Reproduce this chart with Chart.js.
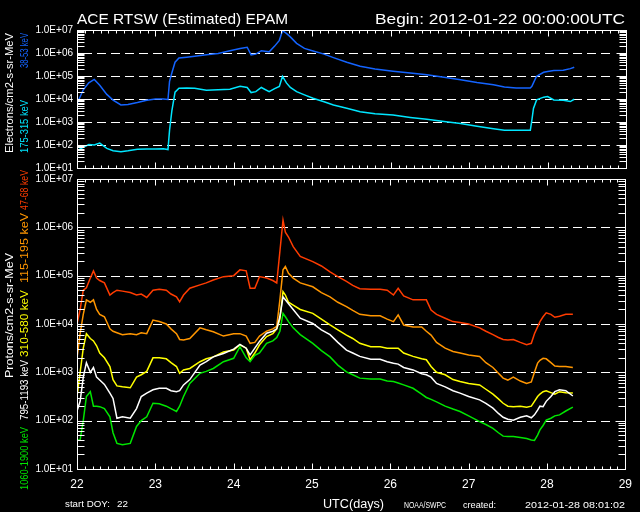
<!DOCTYPE html>
<html>
<head>
<meta charset="utf-8">
<script src="https://cdn.jsdelivr.net/npm/chart.js@4.4.0/dist/chart.umd.min.js"></script>
<style>
  body { margin: 0; background: #000; }
  #wrap { position: relative; width: 640px; height: 512px; background: #000; }
  canvas { position: absolute; left: 0; top: 0; }
</style>
</head>
<body>
<div id="wrap">
  <canvas id="elec" width="640" height="512"></canvas>
  <canvas id="prot" width="640" height="512"></canvas>
</div>
<script>

// electrons
var eDays = [22.0, 22.08, 22.15, 22.22, 22.29, 22.38, 22.46, 22.56, 22.65, 22.77, 22.89, 23.0, 23.1, 23.16, 23.18, 23.21, 23.25, 23.3, 23.4, 23.5,
  23.65, 23.8, 23.95, 24.08, 24.17, 24.22, 24.28, 24.35, 24.45, 24.52, 24.58, 24.62, 24.67, 24.72, 24.8, 24.9, 25.01, 25.15, 25.27, 25.44,
  25.61, 25.8, 26.03, 26.25, 26.46, 26.68, 26.89, 27.1, 27.31, 27.45, 27.6, 27.78, 27.8, 27.82, 27.86, 27.95, 28.0, 28.08, 28.2, 28.29, 28.34];
var e38 = [3.8, 4.4, 4.7, 4.85, 4.6, 4.2, 3.95, 3.74, 3.76, 3.85, 3.95, 4.0, 4.0, 3.98, 4.77, 5.14, 5.6, 5.78, 5.82, 5.86,
  5.92, 5.98, 6.1, 6.2, 6.25, 5.92, 5.95, 6.1, 6.05, 6.3, 6.55, 6.97, 6.85, 6.7, 6.42, 6.2, 6.09, 5.95, 5.8, 5.6,
  5.42, 5.3, 5.21, 5.13, 5.05, 4.95, 4.84, 4.72, 4.62, 4.52, 4.48, 4.48, 4.55, 4.7, 4.99, 5.16, 5.2, 5.24, 5.25, 5.32, 5.38];
var e175 = [1.76, 1.9, 2.02, 2.0, 2.08, 1.85, 1.75, 1.71, 1.75, 1.82, 1.83, 1.83, 1.84, 1.8, 2.64, 3.5, 4.3, 4.47, 4.48, 4.47,
  4.38, 4.4, 4.42, 4.55, 4.5, 4.28, 4.32, 4.5, 4.32, 4.45, 4.55, 4.99, 4.7, 4.5, 4.32, 4.18, 4.03, 3.88, 3.74, 3.6,
  3.45, 3.36, 3.3, 3.2, 3.12, 3.02, 2.93, 2.82, 2.71, 2.64, 2.64, 2.64, 3.08, 3.59, 3.96, 4.08, 4.11, 3.96, 3.95, 3.89, 3.99];

// protons
var pDays = [22.0, 22.04, 22.08, 22.12, 22.17, 22.21, 22.25, 22.29, 22.35, 22.42, 22.46, 22.51, 22.58, 22.68, 22.76, 22.82, 22.89, 22.97, 23.05, 23.14,
  23.2, 23.27, 23.31, 23.36, 23.44, 23.57, 23.65, 23.74, 23.87, 24.0, 24.08, 24.16, 24.21, 24.27, 24.33, 24.42, 24.5, 24.55, 24.59, 24.63,
  24.66, 24.7, 24.76, 24.85, 25.01, 25.12, 25.23, 25.33, 25.44, 25.52, 25.61, 25.75, 25.87, 25.96, 26.04, 26.1, 26.17, 26.29, 26.4, 26.46,
  26.52, 26.59, 26.7, 26.8, 26.89, 27.0, 27.14, 27.22, 27.31, 27.38, 27.44, 27.5, 27.57, 27.66, 27.74, 27.8, 27.84, 27.88, 27.91, 27.95,
  27.99, 28.05, 28.1, 28.16, 28.24, 28.33];
var p47 = [4.0, 4.3, 4.7, 4.75, 4.95, 5.1, 4.95, 4.9, 4.85, 4.6, 4.65, 4.7, 4.68, 4.65, 4.6, 4.62, 4.55, 4.7, 4.72, 4.7,
  4.62, 4.56, 4.46, 4.6, 4.74, 4.81, 4.85, 4.91, 4.98, 5.0, 5.12, 5.1, 4.74, 4.74, 4.98, 4.95, 4.9, 4.85, 5.5, 6.15,
  5.9, 5.8, 5.6, 5.4, 5.29, 5.2, 5.08, 4.98, 4.88, 4.8, 4.73, 4.72, 4.72, 4.7, 4.6, 4.74, 4.58, 4.5, 4.5, 4.5,
  4.29, 4.2, 4.12, 4.05, 4.03, 4.0, 3.92, 3.85, 3.78, 3.72, 3.68, 3.67, 3.68, 3.62, 3.57, 3.6, 3.8, 3.94, 4.05, 4.15,
  4.23, 4.2, 4.14, 4.16, 4.2, 4.2];
var p115 = [3.3, 3.8, 4.2, 4.5, 4.45, 4.5, 4.3, 4.2, 4.15, 3.9, 3.85, 3.82, 3.78, 3.8, 3.78, 3.82, 3.8, 4.08, 4.05, 4.0,
  3.9, 3.8, 3.68, 3.67, 3.7, 3.92, 3.88, 3.84, 3.75, 3.8, 3.8, 3.75, 3.6, 3.62, 3.75, 3.85, 3.9, 3.95, 4.5, 5.12,
  5.19, 5.05, 4.95, 4.85, 4.77, 4.65, 4.56, 4.45, 4.36, 4.28, 4.2, 4.17, 4.17, 4.1, 4.05, 4.19, 3.98, 3.94, 3.94, 3.85,
  3.77, 3.62, 3.5, 3.43, 3.4, 3.36, 3.33, 3.2, 3.1, 2.98, 2.88, 2.84, 2.9, 2.82, 2.77, 2.8, 3.0, 3.19, 3.25, 3.29,
  3.28, 3.2, 3.13, 3.12, 3.12, 3.1];
var p310 = [2.5, 3.0, 3.5, 3.8, 3.7, 3.65, 3.55, 3.4, 3.3, 3.12, 2.85, 2.72, 2.7, 2.68, 2.9, 2.95, 3.02, 3.3, 3.3, 3.28,
  3.2, 3.12, 2.98, 3.05, 3.08, 3.22, 3.28, 3.32, 3.42, 3.46, 3.57, 3.5, 3.26, 3.4, 3.57, 3.74, 3.8, 3.9, 4.1, 4.67,
  4.6, 4.45, 4.39, 4.3, 4.22, 4.1, 3.98, 3.88, 3.77, 3.7, 3.6, 3.53, 3.53, 3.5, 3.5, 3.5, 3.4, 3.33, 3.28, 3.26,
  3.12, 3.0, 2.95, 2.85, 2.81, 2.77, 2.74, 2.65, 2.55, 2.45, 2.36, 2.3, 2.29, 2.3, 2.28, 2.3, 2.4, 2.5, 2.55, 2.6,
  2.62, 2.58, 2.55, 2.6, 2.58, 2.57];
var p795 = [2.2, 2.4, 2.9, 3.2, 3.0, 3.1, 2.9, 2.84, 2.75, 2.57, 2.46, 2.05, 2.08, 2.05, 2.25, 2.5, 2.57, 2.64, 2.67, 2.67,
  2.62, 2.6, 2.62, 2.74, 2.85, 3.15, 3.22, 3.32, 3.39, 3.48, 3.58, 3.5, 3.36, 3.5, 3.64, 3.81, 3.85, 3.9, 4.15, 4.56,
  4.5, 4.42, 4.3, 4.12, 4.01, 3.88, 3.78, 3.62, 3.46, 3.4, 3.33, 3.27, 3.27, 3.22, 3.19, 3.17, 3.1, 3.05, 2.97, 2.95,
  2.9, 2.77, 2.7, 2.62, 2.57, 2.5, 2.43, 2.36, 2.26, 2.15, 2.07, 2.03, 2.01, 2.07, 2.1, 2.06, 2.12, 2.22, 2.3, 2.29,
  2.4, 2.5, 2.6, 2.64, 2.62, 2.51];
var p1060 = [1.6, 1.6, 2.0, 2.5, 2.6, 2.3, 2.3, 2.29, 2.25, 2.08, 1.75, 1.53, 1.5, 1.53, 1.88, 2.0, 2.08, 2.36, 2.35, 2.3,
  2.25, 2.19, 2.3, 2.5, 2.77, 2.98, 3.02, 3.08, 3.22, 3.29, 3.53, 3.3, 3.22, 3.35, 3.4, 3.6, 3.65, 3.72, 3.85, 4.22,
  4.15, 4.05, 3.92, 3.78, 3.6, 3.45, 3.32, 3.15, 3.01, 2.95, 2.88, 2.86, 2.86, 2.82, 2.81, 2.78, 2.74, 2.67, 2.55, 2.48,
  2.44, 2.39, 2.3, 2.24, 2.19, 2.1, 1.98, 1.92, 1.84, 1.75, 1.68, 1.67, 1.67, 1.65, 1.63, 1.6, 1.59, 1.7, 1.81, 1.9,
  2.01, 2.05, 2.1, 2.12, 2.2, 2.28];

var decades = [1e1, 1e2, 1e3, 1e4, 1e5, 1e6, 1e7];
var dayTicks = [22, 23, 24, 25, 26, 27, 28, 29];

var blue = '#1464ff', cyan = '#00e6ff', red = '#ff3c00', orange = '#ff9600',
    yellow = '#ffff00', white = '#ffffff', green = '#00e600';

function toPts(days, logs) {
  return days.map(function (d, i) { return { x: d, y: Math.pow(10, logs[i]) }; });
}

// draw text from (x,y) stretched to width w, optionally rotated to read upward
function fitText(ctx, s, x, y, w, color, size, rot) {
  ctx.save();
  ctx.font = size + 'px "Liberation Sans"';
  ctx.fillStyle = color;
  ctx.textBaseline = 'alphabetic';
  ctx.textAlign = 'left';
  ctx.translate(x, y);
  if (rot) ctx.rotate(-Math.PI / 2);
  ctx.scale(w / ctx.measureText(s).width, 1);
  ctx.fillText(s, 0, 0);
  ctx.restore();
}

var framePlugin = {
  id: 'frame',
  beforeDatasetsDraw: function (chart) {
    var ctx = chart.ctx, a = chart.chartArea, ys = chart.scales.y;
    ctx.save();
    ctx.strokeStyle = '#fff';
    ctx.lineWidth = 1;
    ctx.setLineDash([9, 5]);
    decades.slice(1, -1).forEach(function (v) {
      var py = Math.round(ys.getPixelForValue(v)) + 0.5;
      ctx.beginPath();
      ctx.moveTo(a.left + 6, py);
      ctx.lineTo(a.right - 12, py);
      ctx.stroke();
    });
    ctx.restore();
  },
  afterDatasetsDraw: function (chart) {
    var ctx = chart.ctx, a = chart.chartArea, xs = chart.scales.x, ys = chart.scales.y;
    var l = Math.round(a.left) + 0.5, r = Math.round(a.right) + 0.5,
        t = Math.round(a.top) + 0.5, b = Math.round(a.bottom) + 0.5;
    ctx.save();
    ctx.strokeStyle = '#fff';
    ctx.lineWidth = 1;
    ctx.strokeRect(l, t, r - l, b - t);
    ctx.beginPath();
    for (var n = 1; n < 7; n++) {
      for (var k = 1; k < 10; k++) {
        var py = Math.round(ys.getPixelForValue(k * Math.pow(10, n))) + 0.5;
        var len = k === 1 ? 10 : 7;
        ctx.moveTo(l, py); ctx.lineTo(l + len, py);
        ctx.moveTo(r, py); ctx.lineTo(r - len, py);
      }
    }
    for (var i = 0; i <= (xs.max - xs.min) * 10; i++) {
      var px = Math.round(xs.getPixelForValue(xs.min + i / 10)) + 0.5;
      var tl = i % 10 === 0 ? 6 : 3;
      ctx.moveTo(px, t); ctx.lineTo(px, t + tl);
      ctx.moveTo(px, b); ctx.lineTo(px, b - tl);
    }
    ctx.stroke();
    ctx.restore();
  }
};

function yAxis() {
  return {
    type: 'logarithmic', min: 1e1, max: 1e7,
    afterBuildTicks: function (s) { s.ticks = decades.map(function (v) { return { value: v }; }); },
    afterFit: function (s) { s.width = 77; },
    grid: { display: false, drawTicks: false },
    border: { display: false },
    ticks: {
      color: '#fff', padding: 4, autoSkip: false,
      font: { family: 'Liberation Sans', size: 10 },
      callback: function (v) { return '1.0E+0' + Math.round(Math.log10(v)); }
    }
  };
}

function panel(id, days, series, pad, xAxis, textPlugin) {
  return new Chart(document.getElementById(id), {
    type: 'scatter',
    data: {
      datasets: series.map(function (s) {
        return {
          label: s.label, data: toPts(days, s.vals),
          borderColor: s.color, backgroundColor: s.color,
          showLine: true, pointRadius: 0, borderWidth: 1.5
        };
      })
    },
    options: {
      responsive: false, animation: false, devicePixelRatio: 1,
      layout: { padding: pad },
      plugins: { legend: { display: false }, tooltip: { enabled: false } },
      scales: { x: xAxis, y: yAxis() }
    },
    plugins: [framePlugin, textPlugin]
  });
}

panel('elec', eDays, [
  { label: '38-53 keV', vals: e38, color: blue },
  { label: '175-315 keV', vals: e175, color: cyan }
], { left: 0, right: 14, top: 30, bottom: 344 },
{ type: 'linear', min: 22, max: 29, display: false },
{
  id: 'elecText',
  afterDraw: function (chart) {
    var ctx = chart.ctx;
    fitText(ctx, 'ACE RTSW (Estimated) EPAM', 77, 24, 211, white, 15);
    fitText(ctx, 'Begin: 2012-01-22 00:00:00UTC', 375, 24, 250, white, 15);
    fitText(ctx, 'Electrons/cm2-s-sr-MeV', 13, 153, 120, white, 10, true);
    fitText(ctx, '175-315 keV', 28, 153, 53, cyan, 10, true);
    fitText(ctx, '38-53 keV', 28, 68, 35, blue, 10, true);
  }
});

panel('prot', pDays, [
  { label: '1060-1900 keV', vals: p1060, color: green },
  { label: '795-1193 keV', vals: p795, color: white },
  { label: '310-580 keV', vals: p310, color: yellow },
  { label: '115-195 keV', vals: p115, color: orange },
  { label: '47-68 keV', vals: p47, color: red }
], { left: 0, right: 14, top: 179, bottom: 0 },
{
  type: 'linear', min: 22, max: 29,
  afterBuildTicks: function (s) { s.ticks = dayTicks.map(function (v) { return { value: v }; }); },
  afterFit: function (s) { s.height = 43; },
  grid: { display: false, drawTicks: false },
  border: { display: false },
  ticks: { color: '#fff', padding: 8, autoSkip: false, maxRotation: 0, font: { family: 'Liberation Sans', size: 12 } }
},
{
  id: 'protText',
  afterDraw: function (chart) {
    var ctx = chart.ctx;
    fitText(ctx, 'Protons/cm2-s-sr-MeV', 13, 378, 125, white, 10, true);
    fitText(ctx, '1060-1900 keV', 28, 490, 63, green, 10, true);
    fitText(ctx, '795-1193 keV', 28, 420, 60, white, 10, true);
    fitText(ctx, '310-580 keV', 28, 357, 67, yellow, 10, true);
    fitText(ctx, '115-195 keV', 28, 283, 70, orange, 10, true);
    fitText(ctx, '47-68 keV', 28, 210, 40, red, 10, true);
    fitText(ctx, 'start DOY:', 65, 507, 45, white, 9);
    fitText(ctx, '22', 117, 507, 11, white, 9);
    fitText(ctx, 'UTC(days)', 323, 508, 61, white, 12);
    fitText(ctx, 'NOAA/SWPC', 404, 508, 42, white, 9);
    fitText(ctx, 'created:', 463, 508, 33, white, 9);
    fitText(ctx, '2012-01-28 08:01:02', 525, 508, 100, white, 9);
  }
});
</script>
</body>
</html>
